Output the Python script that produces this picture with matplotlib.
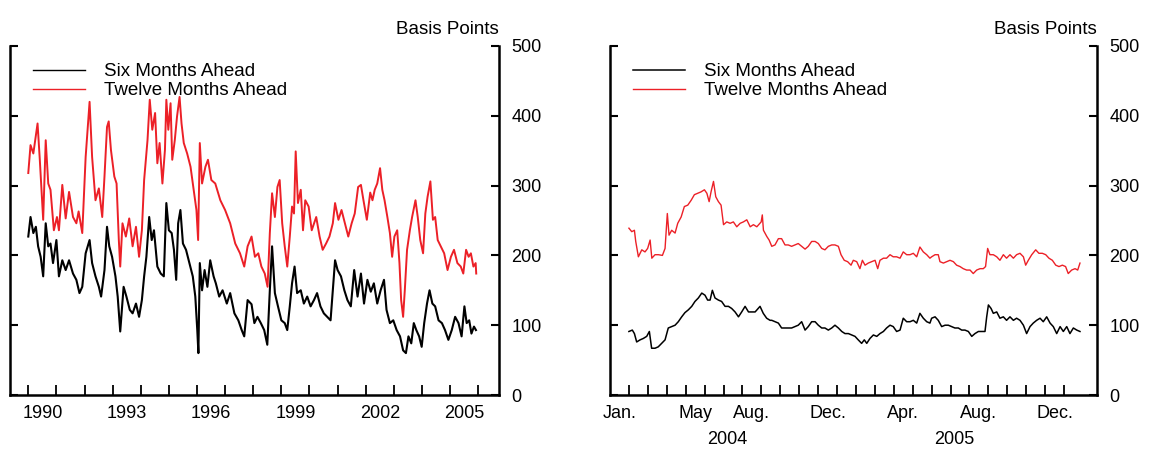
import matplotlib
matplotlib.use("Agg")
import matplotlib.pyplot as plt

plt.rcParams['font.family'] = ['Liberation Sans', 'DejaVu Sans']

# ---- left panel: 1990-2005, decimal years ----
six_t = [1990.00, 1990.08, 1990.18, 1990.27, 1990.35, 1990.44, 1990.53, 1990.62, 1990.71, 1990.79,
         1990.88, 1991.00, 1991.09, 1991.21, 1991.33, 1991.45, 1991.59, 1991.71, 1991.82, 1991.92,
         1992.04, 1992.18, 1992.27, 1992.39, 1992.51, 1992.59, 1992.71, 1992.80, 1992.88, 1992.98,
         1993.10, 1993.18, 1993.27, 1993.39, 1993.49, 1993.61, 1993.71, 1993.83, 1993.94, 1994.04,
         1994.12, 1994.20, 1994.30, 1994.39, 1994.47, 1994.59, 1994.71, 1994.82, 1994.91, 1995.00,
         1995.10, 1995.18, 1995.26, 1995.33, 1995.41, 1995.50, 1995.61, 1995.73, 1995.85, 1995.94,
         1996.01, 1996.05, 1996.10, 1996.18, 1996.27, 1996.37, 1996.47, 1996.59, 1996.67, 1996.79,
         1996.91, 1997.06, 1997.18, 1997.33, 1997.47, 1997.59, 1997.68, 1997.80, 1997.94, 1998.04,
         1998.15, 1998.27, 1998.39, 1998.50, 1998.59, 1998.67, 1998.77, 1998.88, 1999.00, 1999.12,
         1999.21, 1999.30, 1999.38, 1999.47, 1999.56, 1999.69, 1999.80, 1999.92, 2000.04, 2000.16,
         2000.27, 2000.39, 2000.51, 2000.63, 2000.75, 2000.83, 2000.91, 2001.00, 2001.12, 2001.24,
         2001.35, 2001.47, 2001.59, 2001.71, 2001.83, 2001.94, 2002.06, 2002.18, 2002.29, 2002.41,
         2002.53, 2002.65, 2002.74, 2002.86, 2002.98, 2003.10, 2003.22, 2003.33, 2003.43, 2003.52,
         2003.62, 2003.71, 2003.80, 2003.90, 2003.99, 2004.08, 2004.18, 2004.27, 2004.37, 2004.47,
         2004.59, 2004.71, 2004.82, 2004.94, 2005.06, 2005.18, 2005.30, 2005.41, 2005.51, 2005.59,
         2005.68, 2005.76, 2005.85, 2005.92]
six = [227, 255, 232, 241, 213, 198, 170, 246, 213, 217,
       189, 222, 170, 193, 179, 193, 174, 165, 146, 155,
       203, 222, 189, 170, 155, 141, 179, 241, 213, 198,
       170, 141, 91, 155, 141, 122, 117, 131, 112, 136,
       170, 198, 255, 222, 236, 184, 174, 170, 275, 236,
       232, 208, 165, 246, 265, 217, 208, 189, 170, 141,
       93, 60, 189, 150, 179, 155, 193, 170, 160, 141,
       150, 131, 146, 117, 107, 93, 84, 136, 130, 103,
       112, 103, 93, 72, 150, 213, 146, 127, 107, 103,
       93, 127, 160, 184, 146, 150, 131, 141, 127, 136,
       146, 127, 117, 112, 107, 150, 193, 179, 170, 150,
       136, 127, 179, 141, 174, 131, 165, 148, 160, 131,
       150, 165, 122, 103, 107, 93, 84, 64, 60, 84,
       74, 103, 93, 84, 69, 103, 131, 150, 131, 127,
       107, 103, 93, 79, 93, 112, 103, 84, 127, 103,
       107, 88, 98, 93]

twelve_t = [1990.00, 1990.08, 1990.18, 1990.33, 1990.41, 1990.53, 1990.62, 1990.71, 1990.79, 1990.91,
            1991.02, 1991.09, 1991.21, 1991.33, 1991.45, 1991.59, 1991.71, 1991.79, 1991.92, 1992.04,
            1992.18, 1992.27, 1992.39, 1992.51, 1992.63, 1992.71, 1992.80, 1992.86, 1992.94, 1993.06,
            1993.14, 1993.22, 1993.27, 1993.35, 1993.47, 1993.59, 1993.71, 1993.83, 1993.94, 1994.04,
            1994.12, 1994.24, 1994.32, 1994.41, 1994.51, 1994.59, 1994.67, 1994.77, 1994.86, 1994.91,
            1994.98, 1995.06, 1995.12, 1995.21, 1995.29, 1995.38, 1995.45, 1995.53, 1995.65, 1995.77,
            1995.88, 1995.98, 1996.04, 1996.10, 1996.18, 1996.30, 1996.39, 1996.51, 1996.65, 1996.83,
            1997.00, 1997.18, 1997.36, 1997.53, 1997.68, 1997.80, 1997.94, 1998.06, 1998.18, 1998.29,
            1998.41, 1998.51, 1998.59, 1998.67, 1998.77, 1998.86, 1998.94, 1999.03, 1999.12, 1999.21,
            1999.30, 1999.38, 1999.45, 1999.51, 1999.59, 1999.69, 1999.77, 1999.85, 1999.97, 2000.08,
            2000.24, 2000.36, 2000.47, 2000.59, 2000.71, 2000.83, 2000.91, 2001.03, 2001.14, 2001.26,
            2001.38, 2001.50, 2001.61, 2001.73, 2001.83, 2001.92, 2002.04, 2002.16, 2002.24, 2002.32,
            2002.41, 2002.51, 2002.59, 2002.67, 2002.77, 2002.86, 2002.94, 2003.02, 2003.12, 2003.20,
            2003.26, 2003.33, 2003.39, 2003.47, 2003.57, 2003.65, 2003.77, 2003.85, 2003.94, 2004.04,
            2004.12, 2004.20, 2004.30, 2004.39, 2004.47, 2004.56, 2004.67, 2004.79, 2004.91, 2005.03,
            2005.14, 2005.26, 2005.38, 2005.47, 2005.57, 2005.66, 2005.74, 2005.83, 2005.91, 2005.93]
twelve = [318, 358, 346, 389, 337, 251, 365, 303, 294, 236,
          255, 236, 301, 253, 291, 255, 246, 263, 232, 341,
          420, 341, 279, 296, 255, 313, 384, 392, 351, 313,
          303, 222, 184, 246, 227, 253, 213, 241, 198, 236,
          308, 365, 423, 380, 404, 332, 361, 303, 351, 423,
          380, 418, 337, 365, 399, 427, 389, 361, 346, 327,
          294, 265, 222, 361, 303, 327, 337, 308, 303, 279,
          265, 246, 217, 203, 184, 213, 227, 198, 203, 184,
          174, 155, 232, 289, 255, 298, 308, 246, 213, 184,
          227, 270, 260, 349, 275, 294, 236, 279, 270, 236,
          255, 227, 208, 217, 227, 246, 275, 251, 265, 246,
          227, 246, 260, 298, 301, 279, 251, 290, 279, 294,
          303, 325, 294, 279, 255, 232, 198, 227, 236, 189,
          136, 112, 150, 208, 236, 255, 279, 255, 222, 203,
          260, 284, 306, 251, 255, 222, 213, 203, 179, 198,
          208, 189, 184, 174, 208, 198, 203, 184, 189, 174]

year_ticks = list(range(1990, 2007))
year_labels = ["1990", "1993", "1996", "1999", "2002", "2005"]

# ---- right panel: 2004-2005, months (1 = start of Jan. 2004) ----
r_six_m = [1.00, 1.18, 1.29, 1.41, 1.59, 1.76, 1.94, 2.08, 2.20, 2.38, 2.55, 2.73, 2.91, 3.08, 3.26,
           3.44, 3.61, 3.79, 3.96, 4.14, 4.32, 4.49, 4.67, 4.85, 5.02, 5.16, 5.29, 5.41, 5.55, 5.73,
           5.90, 6.08, 6.26, 6.43, 6.61, 6.79, 6.96, 7.14, 7.32, 7.49, 7.67, 7.93, 8.10, 8.28, 8.46,
           8.55, 8.72, 8.90, 9.07, 9.25, 9.42, 9.60, 9.78, 9.95, 10.13, 10.31, 10.48, 10.66, 10.84,
           11.01, 11.19, 11.36, 11.54, 11.72, 11.89, 12.07, 12.25, 12.42, 12.60, 12.77, 12.95, 13.12,
           13.30, 13.44, 13.57, 13.74, 13.92, 14.10, 14.27, 14.45, 14.62, 14.80, 14.97, 15.15, 15.33,
           15.50, 15.68, 15.86, 16.03, 16.21, 16.38, 16.56, 16.74, 16.91, 17.00, 17.18, 17.35, 17.53,
           17.71, 17.88, 18.06, 18.23, 18.41, 18.59, 18.76, 18.94, 19.12, 19.29, 19.47, 19.64, 19.82,
           19.91, 20.00, 20.14, 20.26, 20.44, 20.61, 20.79, 20.96, 21.14, 21.32, 21.49, 21.67, 21.85,
           22.02, 22.20, 22.37, 22.55, 22.73, 22.90, 23.08, 23.26, 23.43, 23.61, 23.79, 23.96, 24.14,
           24.31, 24.49, 24.67, 24.84]
r_six = [91, 93, 88, 76, 79, 81, 84, 91, 67, 67, 69, 74, 79, 96, 98,
         100, 105, 112, 118, 122, 127, 134, 139, 146, 143, 136, 136, 150, 139, 136,
         134, 127, 127, 124, 119, 112, 119, 127, 119, 119, 119, 127, 117, 110, 107,
         107, 105, 103, 96, 96, 96, 96, 98, 100, 105, 93, 98, 105, 105,
         100, 96, 96, 93, 96, 100, 96, 91, 88, 88, 86, 84, 79,
         74, 79, 74, 81, 86, 84, 88, 91, 96, 100, 98, 91, 93,
         110, 105, 105, 107, 103, 117, 110, 105, 103, 110, 112, 107, 98,
         100, 100, 98, 96, 96, 93, 93, 91, 84, 88, 91, 91, 91,
         112, 129, 124, 117, 119, 110, 112, 107, 112, 107, 110, 107, 100,
         88, 98, 103, 107, 110, 105, 112, 103, 98, 88, 98, 91, 98,
         88, 96, 93, 91]

r_twelve_m = [1.00, 1.15, 1.29, 1.36, 1.50, 1.68, 1.85, 1.99, 2.12, 2.21, 2.38, 2.56, 2.77, 2.91, 3.03,
              3.12, 3.26, 3.44, 3.58, 3.76, 3.93, 4.11, 4.29, 4.46, 4.64, 4.81, 4.99, 5.12, 5.24, 5.34,
              5.47, 5.59, 5.73, 5.87, 6.00, 6.17, 6.35, 6.52, 6.70, 6.88, 7.05, 7.23, 7.41, 7.58, 7.76,
              7.99, 8.05, 8.11, 8.29, 8.41, 8.55, 8.72, 8.90, 9.07, 9.25, 9.42, 9.60, 9.78, 9.95, 10.13,
              10.31, 10.48, 10.66, 10.84, 11.01, 11.19, 11.36, 11.54, 11.72, 11.89, 12.07, 12.21, 12.38,
              12.56, 12.74, 12.86, 13.04, 13.21, 13.34, 13.48, 13.65, 13.83, 14.01, 14.15, 14.27, 14.45,
              14.62, 14.80, 14.97, 15.15, 15.33, 15.50, 15.68, 15.86, 16.03, 16.21, 16.38, 16.56, 16.74,
              16.91, 17.00, 17.18, 17.35, 17.44, 17.62, 17.80, 17.97, 18.15, 18.32, 18.50, 18.67, 18.85,
              19.03, 19.20, 19.38, 19.56, 19.73, 19.85, 19.96, 20.08, 20.26, 20.44, 20.61, 20.79, 20.96,
              21.14, 21.32, 21.49, 21.67, 21.85, 21.97, 22.11, 22.29, 22.50, 22.67, 22.85, 23.03, 23.20,
              23.38, 23.56, 23.73, 23.91, 24.08, 24.22, 24.40, 24.58, 24.72, 24.84]
r_twelve = [239, 234, 236, 220, 198, 208, 205, 210, 222, 196, 201, 201, 200, 210, 260,
            229, 236, 232, 246, 255, 270, 272, 279, 287, 289, 291, 294, 289, 277, 291,
            306, 284, 277, 272, 244, 248, 246, 248, 241, 246, 248, 251, 241, 244, 241,
            248, 258, 236, 227, 222, 213, 215, 224, 224, 215, 215, 213, 215, 217, 213,
            209, 213, 220, 220, 217, 210, 208, 213, 215, 215, 213, 201, 193,
            191, 186, 193, 191, 181, 193, 186, 189, 191, 193, 181, 193, 196,
            196, 201, 198, 198, 196, 205, 201, 201, 203, 198, 212, 205, 201,
            196, 198, 201, 201, 191, 189, 191, 193, 191, 186, 184, 181, 179,
            179, 174, 179, 181, 181, 184, 210, 201, 201, 198, 193, 201, 196,
            201, 196, 201, 203, 198, 186, 193, 201, 208, 203, 203, 201, 196,
            193, 186, 184, 186, 184, 174, 179, 181, 179, 189]

month_ticks = list(range(1, 25))
month_labels = ["Jan.", "May", "Aug.", "Dec.", "Apr.", "Aug.", "Dec."]
month_label_pos = [0.5, 4.5, 7.5, 11.5, 15.5, 19.5, 23.5]
year2_labels = ["2004", "2005"]
year2_pos = [6.2, 18.2]

y_ticks = [0, 100, 200, 300, 400, 500]

RED = "#ec2027"

fig = plt.figure(figsize=(11.5, 4.49), dpi=100)
ax1 = fig.add_axes([10 / 1150, 54 / 449, 489 / 1150, 349 / 449])
ax2 = fig.add_axes([610 / 1150, 54 / 449, 487 / 1150, 349 / 449])


def style(ax):
    ax.set_ylim(0, 500)
    ax.spines['top'].set_visible(False)
    for s in ['left', 'right', 'bottom']:
        ax.spines[s].set_linewidth(1.8)
    ax.set_yticks(y_ticks)
    ax.tick_params(axis='y', left=True, right=True, labelleft=False, labelright=True,
                   direction='in', length=6, width=1.5, pad=9, labelsize=13)
    ax.tick_params(axis='x', which='major', direction='in', length=7, width=1.3,
                   labelbottom=False, top=False)
    ax.tick_params(axis='x', which='minor', length=0, pad=7, labelsize=13, top=False)
    ax.text(1.0, 1.048, "Basis Points", transform=ax.transAxes, ha='right', va='center',
            fontsize=13.5)
    ax.legend(loc='upper left', bbox_to_anchor=(0.047, 0.951), frameon=False,
              fontsize=13.5, handlelength=2.8, handletextpad=1.0, labelspacing=0.1,
              borderpad=0, borderaxespad=0)


ax1.plot(six_t, six, color="black", lw=1.5, label="Six Months Ahead")
ax1.plot(twelve_t, twelve, color=RED, lw=1.4, label="Twelve Months Ahead")
ax1.set_xlim(1989.35, 2006.74)
ax1.set_xticks(year_ticks)
ax1.set_xticks([int(y) + 0.5 for y in year_labels], minor=True)
ax1.set_xticklabels(year_labels, minor=True)
style(ax1)
for line in ax1.get_legend().get_lines():
    line.set_linewidth(1.0)

ax2.plot(r_six_m, r_six, color="black", lw=1.1, label="Six Months Ahead")
ax2.plot(r_twelve_m, r_twelve, color=RED, lw=1.0, label="Twelve Months Ahead")
ax2.set_xlim(0, 25.74)
ax2.set_xticks(month_ticks)
ax2.set_xticks(month_label_pos, minor=True)
ax2.set_xticklabels(month_labels, minor=True)
for lab, pos in zip(year2_labels, year2_pos):
    ax2.text(pos, -0.127, lab, transform=ax2.get_xaxis_transform(), ha='center', va='center',
             fontsize=13)
style(ax2)

fig.savefig("out.png", dpi=100)
